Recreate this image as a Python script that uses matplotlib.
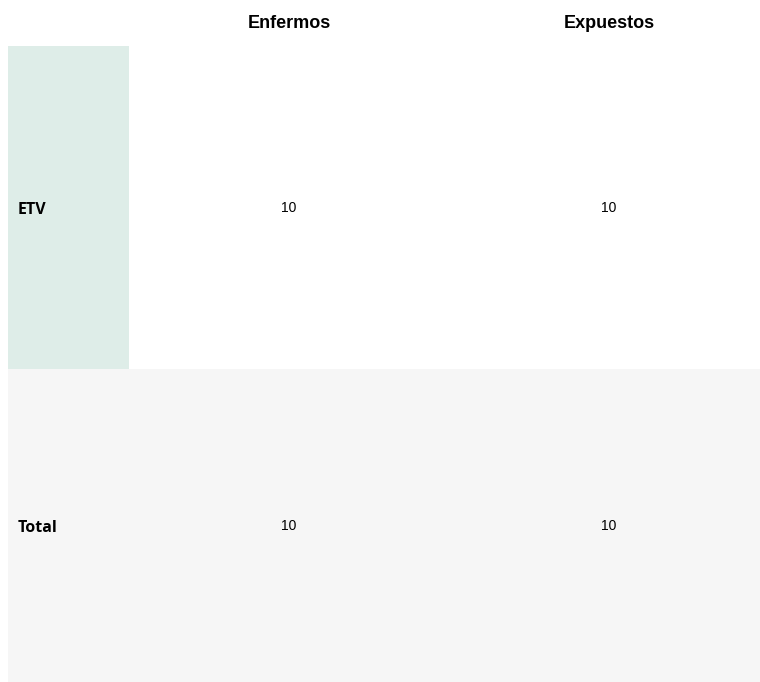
import matplotlib
matplotlib.use("Agg")
import matplotlib.pyplot as plt
from matplotlib.patches import Rectangle

# table content
col_labels = ["Enfermos", "Expuestos"]
row_labels = ["ETV", "Total"]
values = [[10, 10], [10, 10]]
row_colors = ["#DEEDE8", "#F6F6F6"]

W, H = 760, 682
fig = plt.figure(figsize=(W / 100, H / 100), dpi=100)
ax = fig.add_axes([0, 0, 1, 1])
ax.set_xlim(0, W)
ax.set_ylim(H, 0)
ax.axis("off")

left = 8
label_w = 121
col_w = 320
header_h = 46
row_h = [323, 313]

# header
for j, name in enumerate(col_labels):
    cx = left + label_w + col_w * (j + 0.5)
    ax.text(cx, 24, name, ha="center", va="center",
            fontsize=13, fontweight="bold", family="Liberation Sans")

y = header_h
for i, (label, row) in enumerate(zip(row_labels, values)):
    h = row_h[i]
    # first row shades only the label cell, total row spans the full width
    width = label_w if i == 0 else W - left
    ax.add_patch(Rectangle((left, y), width, h, facecolor=row_colors[i], edgecolor="none"))
    cy = y + h / 2 + 2
    ax.text(left + 10, cy + 1, label, ha="left", va="center",
            fontsize=11.5, fontweight="bold", family="Open Sans")
    for j, v in enumerate(row):
        cx = left + label_w + col_w * (j + 0.5)
        ax.text(cx, cy - 1, str(v), ha="center", va="center",
                fontsize=10, family="Liberation Sans")
    y += h

fig.savefig("out.png", dpi=100)
